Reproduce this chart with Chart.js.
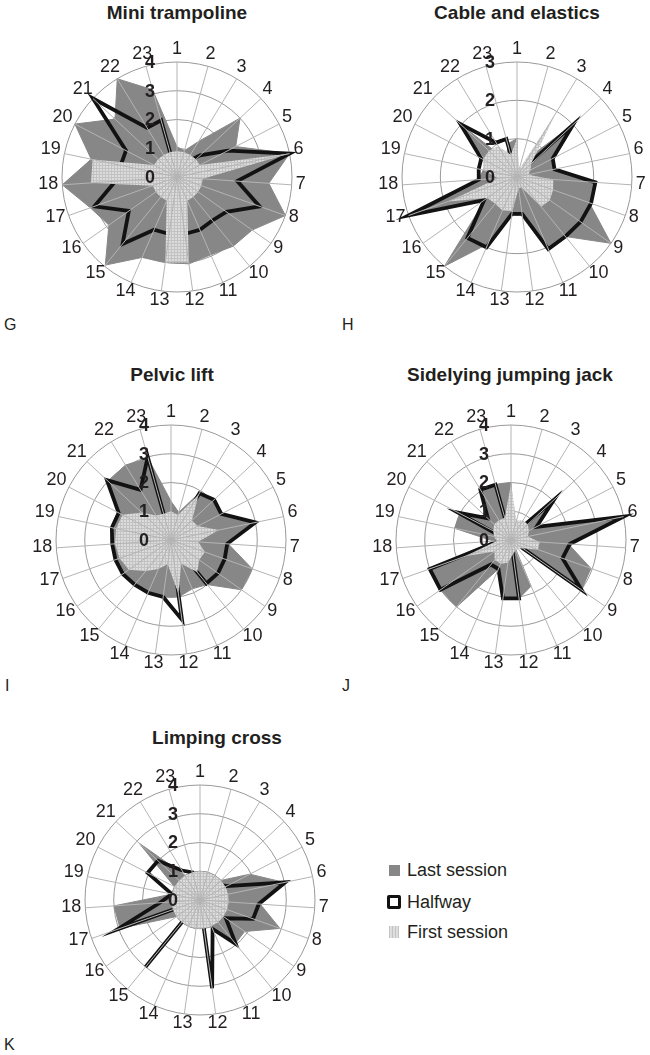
<!DOCTYPE html>
<html><head><meta charset="utf-8">
<script src="https://cdn.jsdelivr.net/npm/chart.js@4.4.1/dist/chart.umd.min.js"></script>
<style>
html,body{margin:0;padding:0;background:#fff;}
body{width:650px;height:1055px;position:relative;overflow:hidden;font-family:"Liberation Sans",Arial,sans-serif;color:#231f20;}
.title{position:absolute;font-weight:bold;font-size:19px;line-height:22px;transform:translateX(-50%);white-space:nowrap;}
.letter{position:absolute;font-size:16px;line-height:18px;}
canvas{position:absolute;}
.lg-text{position:absolute;left:407px;font-size:18px;line-height:20px;white-space:nowrap;}
.sw{position:absolute;box-sizing:border-box;}
</style></head>
<body>
<div class="title" style="left:177px;top:2px">Mini trampoline</div>
<div class="title" style="left:517px;top:2px">Cable and elastics</div>
<div class="title" style="left:172px;top:364px">Pelvic lift</div>
<div class="title" style="left:510px;top:364px">Sidelying jumping jack</div>
<div class="title" style="left:217px;top:727px">Limping cross</div>
<div class="letter" style="left:4px;top:316px">G</div>
<div class="letter" style="left:342px;top:316px">H</div>
<div class="letter" style="left:5px;top:677px">I</div>
<div class="letter" style="left:342px;top:677px">J</div>
<div class="letter" style="left:4px;top:1036px">K</div>

<canvas id="cG" width="288" height="288" style="left:33px;top:33px"></canvas>
<canvas id="cH" width="288" height="288" style="left:373px;top:33px"></canvas>
<canvas id="cI" width="288" height="288" style="left:27px;top:396px"></canvas>
<canvas id="cJ" width="288" height="288" style="left:367px;top:396px"></canvas>
<canvas id="cK" width="288" height="288" style="left:56px;top:756px"></canvas>

<div class="sw" style="left:389px;top:865px;width:11px;height:11px;background:#878787"></div>
<div class="lg-text" style="top:860px">Last session</div>
<div class="sw" style="left:387px;top:895px;width:14px;height:14px;background:#fff;border:3.5px solid #111;border-radius:2px"></div>
<div class="lg-text" style="top:892px">Halfway</div>
<div class="sw" style="left:389px;top:926px;width:10px;height:12px;background:repeating-linear-gradient(90deg,#c4c4c4 0 1px,#dedede 1px 3px)"></div>
<div class="lg-text" style="top:922px">First session</div>

<script>
const categories = ['1','2','3','4','5','6','7','8','9','10','11','12','13','14','15','16','17','18','19','20','21','22','23'];
const ticks4 = ['0','1','2','3','4'];
const ticks3 = ['0','1','2','3'];
const seriesNames = ['Last session','Halfway','First session'];

// Mini trampoline
const miniLast  = [1.05,0.95,1.45,3.0,2.3,4.0,3.2,4.0,3.2,3.1,2.95,3.05,3.0,3.05,3.95,2.9,3.2,4.0,3.05,4.0,2.95,4.0,3.15];
const miniHalf  = [0,0.3,0.6,1.1,2.0,4.0,2.1,3.05,2.1,1.95,2.0,2.0,2.0,2.0,3.0,2.05,3.05,2.15,2.0,2.0,4.0,2.0,2.05];
const miniFirst = [0.9,0.9,0.9,0.9,0.9,4.0,0.9,0.9,0.9,0.9,0.9,3.0,3.0,0.9,0.9,0.9,0.9,3.0,3.0,0.9,0.9,0.9,0.9];
// Cable and elastics
const cableLast  = [1.0,0.1,0.6,2.0,1.0,1.0,2.0,2.0,3.0,2.0,2.0,1.0,0.95,1.9,3.0,1.0,3.0,1.0,0.9,0.9,2.0,0.5,0.9];
const cableHalf  = [0,0,0.2,2.0,1.05,1.0,2.05,2.05,2.03,2.0,2.05,0.97,0.97,2.0,2.05,1.05,3.0,1.0,1.02,1.05,2.02,1.05,1.03];
const cableFirst = [1.0,0.2,1.95,0.5,0.4,0.3,0.95,1.0,1.05,1.0,0.3,0.3,0.9,0.95,0.9,0.95,1.9,0.5,0.9,1.0,1.0,0.95,0.6];
// Pelvic lift
const pelvicLast  = [1.35,1.0,1.95,2.05,2.0,3.0,2.0,3.0,3.0,2.0,1.85,2.0,2.0,2.0,2.0,2.0,2.0,2.0,2.0,2.0,3.0,3.05,2.95];
const pelvicHalf  = [0,0,1.9,2.05,1.97,3.0,1.96,1.98,2.0,1.95,0,2.8,2.0,2.0,2.0,2.05,2.05,2.05,2.1,2.05,3.05,2.04,3.0];
const pelvicFirst = [1.0,0.9,1.85,1.0,1.05,1.7,0.95,1.25,1.2,1.45,0.9,1.88,0.85,1.1,1.4,1.8,1.9,1.95,1.95,1.9,1.4,1.0,0.95];
// Sidelying jumping jack
const sideLast  = [2.0,0.4,0.5,2.05,1.0,4.0,2.0,2.95,3.0,0.1,1.75,2.05,2.05,1.1,3.0,3.0,3.0,0.6,2.0,2.0,1.1,2.05,2.0];
const sideHalf  = [0,0.3,0.3,2.05,1.0,4.0,2.05,1.9,3.0,0,0,2.05,2.05,1.1,1.1,3.0,3.0,0.4,0.2,2.07,1.1,2.05,2.0];
const sideFirst = [1.95,0.7,0.8,0.8,0.7,0.6,1.0,1.0,0.5,0.4,0.4,0.5,0.8,0.9,0.9,0.7,1.7,0.5,0.6,0.7,0.8,0.8,0.8];
// Limping cross
const limpLast  = [1.0,1.0,1.0,1.0,1.95,3.0,2.1,2.95,1.9,1.95,1.0,1.0,1.0,1.0,1.0,1.0,2.95,3.0,1.0,1.0,2.9,1.0,1.0];
const limpHalf  = [0,0.3,0.5,0.8,1.05,3.03,2.05,1.96,1.1,1.97,1.1,3.1,0,0,3.0,0,3.05,1.4,1.0,2.05,2.0,1.2,1.0];
const limpFirst = [1.0,1.0,1.0,1.0,1.0,1.0,1.0,1.0,1.0,1.0,1.0,1.0,1.0,1.0,1.0,1.0,1.0,1.0,1.0,1.0,1.0,1.0,1.0];

const FONT = '"Liberation Sans", Arial, sans-serif';
const INK = '#231f20';

function hatch(){
  const c = document.createElement('canvas'); c.width = 3; c.height = 3;
  const x = c.getContext('2d');
  x.fillStyle = '#dcdcdc'; x.fillRect(0,0,3,3);
  x.fillStyle = '#c2c2c2'; x.fillRect(0,0,1,3); x.fillRect(0,0,3,1);
  return x.createPattern(c,'repeat');
}

const overlay = {
  id: 'overlay',
  afterDatasetsDraw(chart, args, opts){
    const s = chart.scales.r, ctx = chart.ctx;
    const n = chart.data.labels.length;
    ctx.save();
    // spokes drawn over the filled areas
    ctx.strokeStyle = '#b4b4b4'; ctx.lineWidth = 1;
    for (let i = 0; i < n; i++){
      const p = s.getPointPosition(i, s.drawingArea);
      ctx.beginPath(); ctx.moveTo(s.xCenter, s.yCenter); ctx.lineTo(p.x, p.y); ctx.stroke();
    }
    // category labels, centred just outside the outer ring
    ctx.font = '18px ' + FONT;
    ctx.fillStyle = INK; ctx.textAlign = 'center'; ctx.textBaseline = 'middle';
    for (let i = 0; i < n; i++){
      const lab = chart.data.labels[i];
      const w = ctx.measureText(lab).width;
      const p = s.getPointPosition(i, s.drawingArea + 4);
      const ux = (p.x - s.xCenter) / (s.drawingArea + 4), uy = (p.y - s.yCenter) / (s.drawingArea + 4);
      ctx.fillText(lab, p.x + ux * w / 2, p.y + uy * 7 - 2);
    }
    // value labels in a column left of the centre
    ctx.font = 'bold 18px ' + FONT;
    opts.ticks.forEach(t => {
      const d = s.getDistanceFromCenterForValue(Number(t));
      ctx.fillText(t, s.xCenter - 27, s.yCenter - d + 1);
    });
    ctx.restore();
  }
};

function radar(id, last, half, first, tickLabels){
  const max = Number(tickLabels[tickLabels.length-1]);
  new Chart(document.getElementById(id), {
    type: 'radar',
    data: {
      labels: categories,
      datasets: [
        {label: seriesNames[0], data: last, backgroundColor:'#878787', borderColor:'#878787', borderWidth:1, fill:'origin', pointRadius:0, order:3},
        {label: seriesNames[1], data: half, borderColor:'#121212', borderWidth:3.8, fill:false, pointRadius:0, borderJoinStyle:'miter', order:2},
        {label: seriesNames[2], data: first, backgroundColor: hatch(), borderColor:'rgba(0,0,0,0)', borderWidth:1, fill:'origin', pointRadius:0, order:1}
      ]
    },
    options: {
      responsive:false, animation:false, devicePixelRatio:1,
      layout:{padding:29},
      plugins:{legend:{display:false}, tooltip:{enabled:false}, overlay:{ticks:tickLabels}},
      scales:{ r:{
        min:0, max:max,
        ticks:{display:false, stepSize:1},
        grid:{circular:true, color:'#999999', lineWidth:1},
        angleLines:{display:false},
        pointLabels:{display:false}
      }}
    },
    plugins:[overlay]
  });
}

radar('cG', miniLast, miniHalf, miniFirst, ticks4);
radar('cH', cableLast, cableHalf, cableFirst, ticks3);
radar('cI', pelvicLast, pelvicHalf, pelvicFirst, ticks4);
radar('cJ', sideLast, sideHalf, sideFirst, ticks4);
radar('cK', limpLast, limpHalf, limpFirst, ticks4);
</script>
</body></html>
